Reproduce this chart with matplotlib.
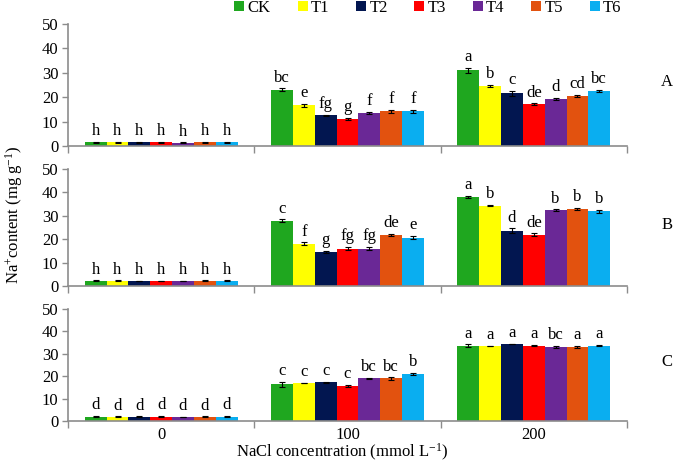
import numpy as np
import matplotlib
matplotlib.use("Agg")
import matplotlib.pyplot as plt

plt.rcParams['font.family'] = ['Liberation Serif', 'DejaVu Serif']
plt.rcParams['mathtext.fontset'] = 'custom'
plt.rcParams['mathtext.rm'] = 'Liberation Serif'
plt.rcParams['mathtext.it'] = 'Liberation Serif:italic'
plt.rcParams['mathtext.default'] = 'rm'

concentrations = ["0", "100", "200"]
treatments = ["CK", "T1", "T2", "T3", "T4", "T5", "T6"]
colors = ["#1FA71F", "#FFFF00", "#021650", "#FF0000", "#6A2896", "#E2520F", "#0AAEF0"]
panels = ["A", "B", "C"]

# values[panel][concentration][treatment]
values_A = [[1.5, 1.5, 1.5, 1.5, 1.4, 1.5, 1.5],
            [23.0, 16.6, 12.6, 11.2, 13.5, 14.2, 14.2],
            [31.1, 24.6, 21.6, 17.2, 19.3, 20.5, 22.6]]
errors_A = [[0.2, 0.2, 0.1, 0.2, 0.1, 0.1, 0.2],
            [0.6, 0.5, 0.3, 0.4, 0.4, 0.5, 0.5],
            [1.0, 0.4, 1.0, 0.3, 0.3, 0.3, 0.3]]
letters_A = [["h"] * 7,
             ["bc", "e", "fg", "g", "f", "f", "f"],
             ["a", "b", "c", "de", "d", "cd", "bc"]]

values_B = [[2.2, 2.2, 2.2, 2.2, 2.2, 2.2, 2.2],
            [27.9, 18.0, 14.6, 16.0, 16.0, 21.8, 20.6],
            [37.9, 34.3, 23.6, 21.9, 32.3, 32.9, 31.9]]
errors_B = [[0.2, 0.2, 0.1, 0.1, 0.1, 0.2, 0.2],
            [0.6, 0.6, 0.3, 0.6, 0.6, 0.6, 0.7],
            [0.5, 0.3, 1.0, 0.6, 0.4, 0.6, 0.6]]
letters_B = [["h"] * 7,
             ["c", "f", "g", "fg", "fg", "de", "e"],
             ["a", "b", "d", "de", "b", "b", "b"]]

values_C = [[2.0, 2.0, 2.0, 2.0, 1.8, 1.9, 2.0],
            [16.3, 17.0, 17.2, 15.7, 19.0, 19.0, 21.0],
            [33.6, 33.5, 34.4, 33.6, 33.0, 33.0, 33.6]]
errors_C = [[0.2, 0.1, 0.1, 0.2, 0.1, 0.2, 0.2],
            [1.0, 0.1, 0.1, 0.3, 0.1, 0.5, 0.6],
            [0.6, 0.1, 0.1, 0.3, 0.6, 0.6, 0.3]]
letters_C = [["d"] * 7,
             ["c", "c", "c", "c", "bc", "bc", "b"],
             ["a", "a", "a", "a", "bc", "a", "a"]]

all_values = [values_A, values_B, values_C]
all_errors = [errors_A, errors_B, errors_C]
all_letters = [letters_A, letters_B, letters_C]

fig = plt.figure(figsize=(6.75, 4.65), dpi=100)
W, H = 675.0, 465.0
left, right = 68 / W, 627 / W
panel_pix = [(24, 146), (169, 286), (309, 421)]
axis_color = "#8C8C8C"
fs = 12

n_t = len(treatments)
group_w = 0.82
bw = group_w / n_t
x = np.arange(len(concentrations))

for p, (top, bot) in enumerate(panel_pix):
    ax = fig.add_axes([left, 1 - bot / H, right - left, (bot - top) / H])
    vals = np.array(all_values[p])
    errs = np.array(all_errors[p])
    for t in range(n_t):
        xs = x - group_w / 2 + bw * (t + 0.5)
        ax.bar(xs, vals[:, t], width=bw, color=colors[t], label=treatments[t],
               yerr=errs[:, t], error_kw=dict(ecolor="black", elinewidth=0.8, capsize=2, capthick=0.8))
        for c in range(len(concentrations)):
            ax.annotate(all_letters[p][c][t], (xs[c], vals[c, t] + errs[c, t]),
                        xytext=(0, 2), textcoords="offset points",
                        ha="center", va="bottom", fontsize=fs)
    ax.set_xlim(-0.5, len(concentrations) - 0.5)
    ax.set_ylim(0, 50)
    ax.set_yticks(np.arange(0, 51, 10))
    ax.tick_params(axis="y", labelsize=fs, length=4, color=axis_color, width=1, pad=3)
    ax.set_xticks(np.arange(-0.5, len(concentrations), 1.0), minor=True)
    ax.set_xticks(x)
    ax.tick_params(axis="x", which="minor", length=5, color=axis_color, width=1)
    ax.tick_params(axis="x", which="major", length=0, labelsize=fs, pad=4)
    if p < 2:
        ax.set_xticklabels([])
    else:
        ax.set_xticklabels(concentrations)
    for s in ["top", "right"]:
        ax.spines[s].set_visible(False)
    for s in ["left", "bottom"]:
        ax.spines[s].set_color(axis_color)
        ax.spines[s].set_linewidth(1.2)
    fig.text(667 / W, 1 - ((top + bot) / 2 - 3) / H, panels[p], fontsize=fs, ha="center", va="center")
    if p == 0:
        handles, labels = ax.get_legend_handles_labels()

fig.legend(handles, labels, loc="center", bbox_to_anchor=(428 / W, 1 - 8 / H), ncol=7,
           frameon=False, fontsize=fs, handlelength=0.6, handleheight=0.6,
           handletextpad=0.2, columnspacing=1.6, borderpad=0)

fig.text(14 / W, 1 - 215 / H, "Na$^{+}$content (mg g$^{-1}$)", rotation=90,
         fontsize=fs, ha="center", va="center")
fig.text(342 / W, 1 - 457 / H, "NaCl concentration (mmol L$^{-1}$)",
         fontsize=fs, ha="center", va="baseline")

fig.savefig("out.png", dpi=100)
